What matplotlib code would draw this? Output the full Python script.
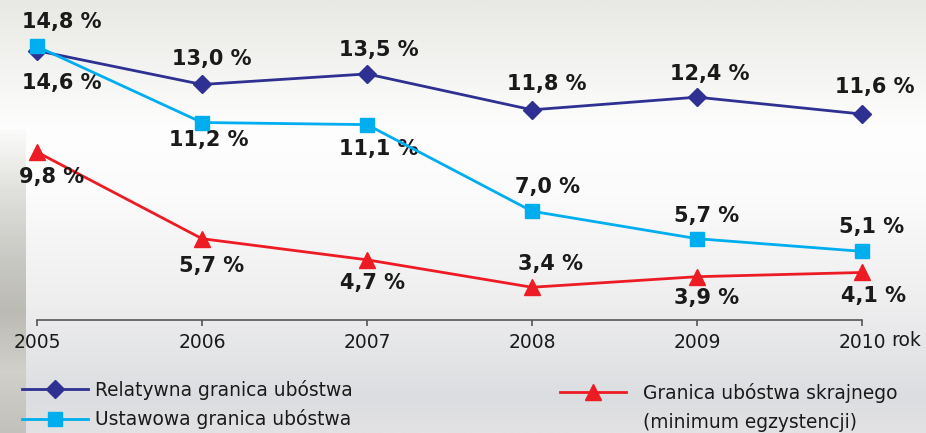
import numpy as np
import matplotlib.pyplot as plt
from matplotlib.lines import Line2D
from matplotlib.colors import LinearSegmentedColormap

# Data
years = [2005, 2006, 2007, 2008, 2009, 2010]
relatywna = [14.6, 13.0, 13.5, 11.8, 12.4, 11.6]
ustawowa = [14.8, 11.2, 11.1, 7.0, 5.7, 5.1]
skrajna = [9.8, 5.7, 4.7, 3.4, 3.9, 4.1]

names = ['Relatywna granica ubóstwa', 'Ustawowa granica ubóstwa',
         'Granica ubóstwa skrajnego', '(minimum egzystencji)']

# label offsets in pixels (dx, dy) per point
off_rel = [(25, -32), (10, 25), (12, 24), (15, 26), (13, 23), (13, 27)]
off_ust = [(25, 24), (7, -17), (12, -24), (15, 24), (10, 23), (10, 24)]
off_skr = [(15, -25), (10, -27), (5, -23), (18, 23), (10, -21), (11, -24)]

c_rel = '#2e3192'
c_ust = '#00aeef'
c_skr = '#ed1c24'
c_txt = '#1a1a1a'

fig = plt.figure(figsize=(9.26, 4.33), dpi=100)

# background gradient
bg = fig.add_axes([0, 0, 1, 1], zorder=-10)
cmap = LinearSegmentedColormap.from_list('bg', [
    (0.0, '#e8e8e4'), (0.15, '#f3f3f1'), (0.3, '#fefefe'), (0.45, '#fbfbfb'),
    (0.7, '#eeeeef'), (0.85, '#e2e3e5'), (0.92, '#dcdde0'), (1.0, '#e2e2e4')])
grad = np.linspace(0, 1, 256).reshape(-1, 1)
bg.imshow(grad, aspect='auto', cmap=cmap, extent=[0, 1, 0, 1], origin='upper')
edge = LinearSegmentedColormap.from_list('edge', ['#fbfbfa', '#dcdcd8', '#c4c4bf',
                                                   '#b3b2aa', '#cfcdc6', '#bdbcb6'])
bg.imshow(grad, aspect='auto', cmap=edge, extent=[0, 0.027, 0, 0.7], origin='upper', alpha=0.85)
bg.set_xlim(0, 1)
bg.set_ylim(0, 1)
bg.axis('off')

ax = fig.add_axes([37 / 926, 113 / 433, 825 / 926, 320 / 433])
ax.patch.set_alpha(0)

ax.plot(years, relatywna, color=c_rel, lw=2, marker='D', ms=9, clip_on=False, zorder=3)
ax.plot(years, ustawowa, color=c_ust, lw=2, marker='s', ms=10, clip_on=False, zorder=4)
ax.plot(years, skrajna, color=c_skr, lw=2, marker='^', ms=12, clip_on=False, zorder=3)

for vals, offs in [(relatywna, off_rel), (ustawowa, off_ust), (skrajna, off_skr)]:
    for x, v, (dx, dy) in zip(years, vals, offs):
        ax.annotate(f'{v:.1f} %'.replace('.', ','), xy=(x, v), xytext=(dx, dy),
                    textcoords='offset pixels', ha='center', va='center',
                    fontsize=15, fontweight='bold', color=c_txt,
                    annotation_clip=False)

ax.set_xlim(2005, 2010)
ax.set_ylim(1.85, 17.0)
ax.set_xticks(years)
ax.set_xticklabels([str(y) for y in years], fontsize=13.5, color=c_txt)
ax.set_yticks([])
for s in ['top', 'right', 'left']:
    ax.spines[s].set_visible(False)
ax.spines['bottom'].set_color('#555555')
ax.spines['bottom'].set_linewidth(1.2)
ax.tick_params(axis='x', direction='out', length=4, width=1.2, color='#555555', pad=5)
ax.annotate('rok', xy=(2010, 1.85), xytext=(44, -21), textcoords='offset pixels',
            ha='center', va='center', fontsize=13.5, color=c_txt, annotation_clip=False)

# legends
h_rel = Line2D([], [], color=c_rel, lw=2, marker='D', ms=9)
h_ust = Line2D([], [], color=c_ust, lw=2, marker='s', ms=10)
h_skr = Line2D([], [], color=c_skr, lw=2, marker='^', ms=12)

leg1 = fig.legend([h_rel, h_ust], names[:2], loc='upper left',
                  bbox_to_anchor=(22 / 926, 1 - 380 / 433), frameon=False,
                  fontsize=13.4, handlelength=3.55, handletextpad=0.35, labelspacing=0.5,
                  borderaxespad=0, borderpad=0)
leg2 = fig.legend([h_skr], names[2:3], loc='upper left',
                  bbox_to_anchor=(560 / 926, 1 - 383 / 433), frameon=False,
                  fontsize=13.4, handlelength=3.55, handletextpad=0.9,
                  borderaxespad=0, borderpad=0)
for leg in (leg1, leg2):
    for t in leg.get_texts():
        t.set_color(c_txt)
fig.text(643 / 926, 1 - 422 / 433, names[3], fontsize=13.4, color=c_txt,
         ha='left', va='center')

fig.savefig('out.png', dpi=100)
